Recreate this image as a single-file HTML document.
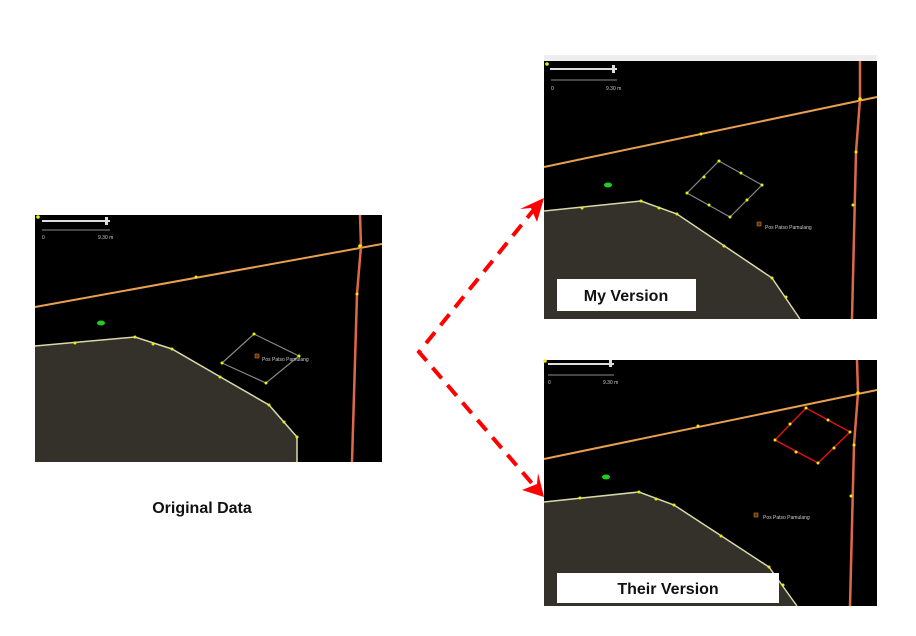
<!DOCTYPE html>
<html><head><meta charset="utf-8"><style>
html,body{margin:0;padding:0;background:#fff;width:916px;height:636px;overflow:hidden}
svg{display:block}
.l{font-family:"Liberation Sans",sans-serif;fill:#ccc;font-size:5px}
</style></head><body>
<svg width="916" height="636" viewBox="0 0 916 636" xmlns="http://www.w3.org/2000/svg">

<!-- LEFT PANEL -->
<rect x="35" y="215" width="347" height="247" fill="#000"/>
<polygon points="35,346 135,337 172,349 269,405 297,437 297,462 35,462" fill="#33312a"/>
<polyline points="35,346 135,337 172,349 269,405 297,437 297,462" fill="none" stroke="#d9d9a8" stroke-width="1.5"/>
<line x1="35" y1="307" x2="382" y2="244" stroke="#e8a050" stroke-width="2"/>
<polyline points="360,215 361,246 357,294 352,462" fill="none" stroke="#e0684a" stroke-width="2.5"/>
<polygon points="254,334 299,356 266,383 222,363" fill="none" stroke="#888" stroke-width="1.2"/>
<g fill="#ee0"><circle cx="360" cy="246" r="1.8"/><circle cx="196" cy="277" r="1.5"/><circle cx="357" cy="294" r="1.5"/><circle cx="75" cy="343" r="1.5"/><circle cx="135" cy="337" r="1.5"/><circle cx="153" cy="344" r="1.5"/><circle cx="172" cy="349" r="1.5"/><circle cx="220" cy="377" r="1.5"/><circle cx="269" cy="405" r="1.5"/><circle cx="284" cy="422" r="1.5"/><circle cx="297" cy="437" r="1.5"/><circle cx="254" cy="334" r="1.5"/><circle cx="299" cy="356" r="1.5"/><circle cx="266" cy="383" r="1.5"/><circle cx="222" cy="363" r="1.5"/><circle cx="38" cy="217" r="1.8"/></g>
<ellipse cx="101" cy="323" rx="4" ry="2.5" fill="#2c2"/>
<rect x="255" y="354" width="4" height="4" fill="#630" stroke="#c73" stroke-width="0.6"/>
<text class="l" x="262" y="361">Pos Patso Pamulang</text>
<line x1="42" y1="221" x2="110" y2="221" stroke="#ddd" stroke-width="2"/><rect x="105" y="217" width="3" height="8" fill="#ddd"/>
<line x1="42" y1="230" x2="110" y2="230" stroke="#bbb" stroke-width="0.8"/>
<text class="l" x="42" y="239">0</text><text class="l" x="98" y="239">9.30 m</text>

<!-- TOP RIGHT -->
<rect x="544" y="55" width="333" height="6" fill="#eee"/>
<rect x="544" y="61" width="333" height="258" fill="#000"/>
<polygon points="544,211 641,201 677,214 772,278 800,319 544,319" fill="#33312a"/>
<polyline points="544,211 641,201 677,214 772,278 800,319" fill="none" stroke="#d9d9a8" stroke-width="1.5"/>
<line x1="544" y1="167" x2="877" y2="97" stroke="#e8a050" stroke-width="2"/>
<polyline points="860,61 860,99 856,152 852,319" fill="none" stroke="#e0684a" stroke-width="2.5"/>
<polygon points="719,161 762,185 730,217 687,193" fill="none" stroke="#888" stroke-width="1.2"/>
<g fill="#ee0"><circle cx="860" cy="99" r="1.8"/><circle cx="701" cy="134" r="1.5"/><circle cx="856" cy="152" r="1.5"/><circle cx="853" cy="205" r="1.5"/><circle cx="582" cy="208" r="1.5"/><circle cx="641" cy="201" r="1.5"/><circle cx="659" cy="208" r="1.5"/><circle cx="677" cy="214" r="1.5"/><circle cx="724" cy="246" r="1.5"/><circle cx="772" cy="278" r="1.5"/><circle cx="786" cy="297" r="1.5"/><circle cx="719" cy="161" r="1.5"/><circle cx="762" cy="185" r="1.5"/><circle cx="730" cy="217" r="1.5"/><circle cx="687" cy="193" r="1.5"/><circle cx="704" cy="177" r="1.5"/><circle cx="741" cy="173" r="1.5"/><circle cx="747" cy="200" r="1.5"/><circle cx="709" cy="205" r="1.5"/><circle cx="547" cy="64" r="1.8"/></g>
<ellipse cx="608" cy="185" rx="4" ry="2.5" fill="#2c2"/>
<rect x="757" y="222" width="4" height="4" fill="#630" stroke="#c73" stroke-width="0.6"/>
<text class="l" x="765" y="229">Pos Patso Pamulang</text>
<line x1="550" y1="69" x2="617" y2="69" stroke="#ddd" stroke-width="2"/><rect x="612" y="65" width="3" height="8" fill="#ddd"/>
<line x1="551" y1="80" x2="617" y2="80" stroke="#bbb" stroke-width="0.8"/>
<text class="l" x="551" y="90">0</text><text class="l" x="606" y="90">9.30 m</text>
<rect x="557" y="279" width="139" height="32" fill="#fff"/>
<text x="626" y="301" text-anchor="middle" font-family="Liberation Sans,sans-serif" font-size="16" font-weight="bold" fill="#111">My Version</text>

<!-- BOTTOM RIGHT -->
<rect x="544" y="360" width="333" height="246" fill="#000"/>
<polygon points="544,502 639,492 674,505 769,567 797,606 544,606" fill="#33312a"/>
<polyline points="544,502 639,492 674,505 769,567 797,606" fill="none" stroke="#d9d9a8" stroke-width="1.5"/>
<line x1="544" y1="459" x2="877" y2="390" stroke="#e8a050" stroke-width="2"/>
<polyline points="857,360 858,393 854,445 850,606" fill="none" stroke="#e0684a" stroke-width="2.5"/>
<polygon points="806,408 850,432 818,463 775,440" fill="none" stroke="#dd1111" stroke-width="1.5"/>
<g fill="#ee0"><circle cx="858" cy="393" r="1.8"/><circle cx="698" cy="426" r="1.5"/><circle cx="854" cy="445" r="1.5"/><circle cx="851" cy="496" r="1.5"/><circle cx="580" cy="498" r="1.5"/><circle cx="639" cy="492" r="1.5"/><circle cx="656" cy="499" r="1.5"/><circle cx="674" cy="505" r="1.5"/><circle cx="721" cy="536" r="1.5"/><circle cx="769" cy="567" r="1.5"/><circle cx="783" cy="585" r="1.5"/><circle cx="806" cy="408" r="1.5"/><circle cx="850" cy="432" r="1.5"/><circle cx="818" cy="463" r="1.5"/><circle cx="775" cy="440" r="1.5"/><circle cx="790" cy="424" r="1.5"/><circle cx="828" cy="420" r="1.5"/><circle cx="834" cy="448" r="1.5"/><circle cx="796" cy="452" r="1.5"/><circle cx="545" cy="361" r="1.8"/></g>
<ellipse cx="606" cy="477" rx="4" ry="2.5" fill="#2c2"/>
<rect x="754" y="513" width="4" height="4" fill="#630" stroke="#c73" stroke-width="0.6"/>
<text class="l" x="763" y="519">Pos Patso Pamulang</text>
<line x1="548" y1="364" x2="614" y2="364" stroke="#ddd" stroke-width="2"/><rect x="609" y="360" width="3" height="7" fill="#ddd"/>
<line x1="548" y1="375" x2="614" y2="375" stroke="#bbb" stroke-width="0.8"/>
<text class="l" x="548" y="384">0</text><text class="l" x="603" y="384">9.30 m</text>
<rect x="557" y="573" width="222" height="30" fill="#fff"/>
<text x="668" y="594" text-anchor="middle" font-family="Liberation Sans,sans-serif" font-size="16" font-weight="bold" fill="#111">Their Version</text>

<!-- ARROWS -->
<polyline points="536,207 419,352 536,488" fill="none" stroke="#ff0000" stroke-width="4" stroke-dasharray="14,9"/>
<path d="M544,198 L520,209 L531,208 L537,222 Z" fill="#ff0000"/>
<path d="M544,497 L538,473 L537,484 L522,490 Z" fill="#ff0000"/>

<text x="202" y="513" text-anchor="middle" font-family="Liberation Sans,sans-serif" font-size="16" font-weight="bold" fill="#111">Original Data</text>
</svg>
</body></html>
